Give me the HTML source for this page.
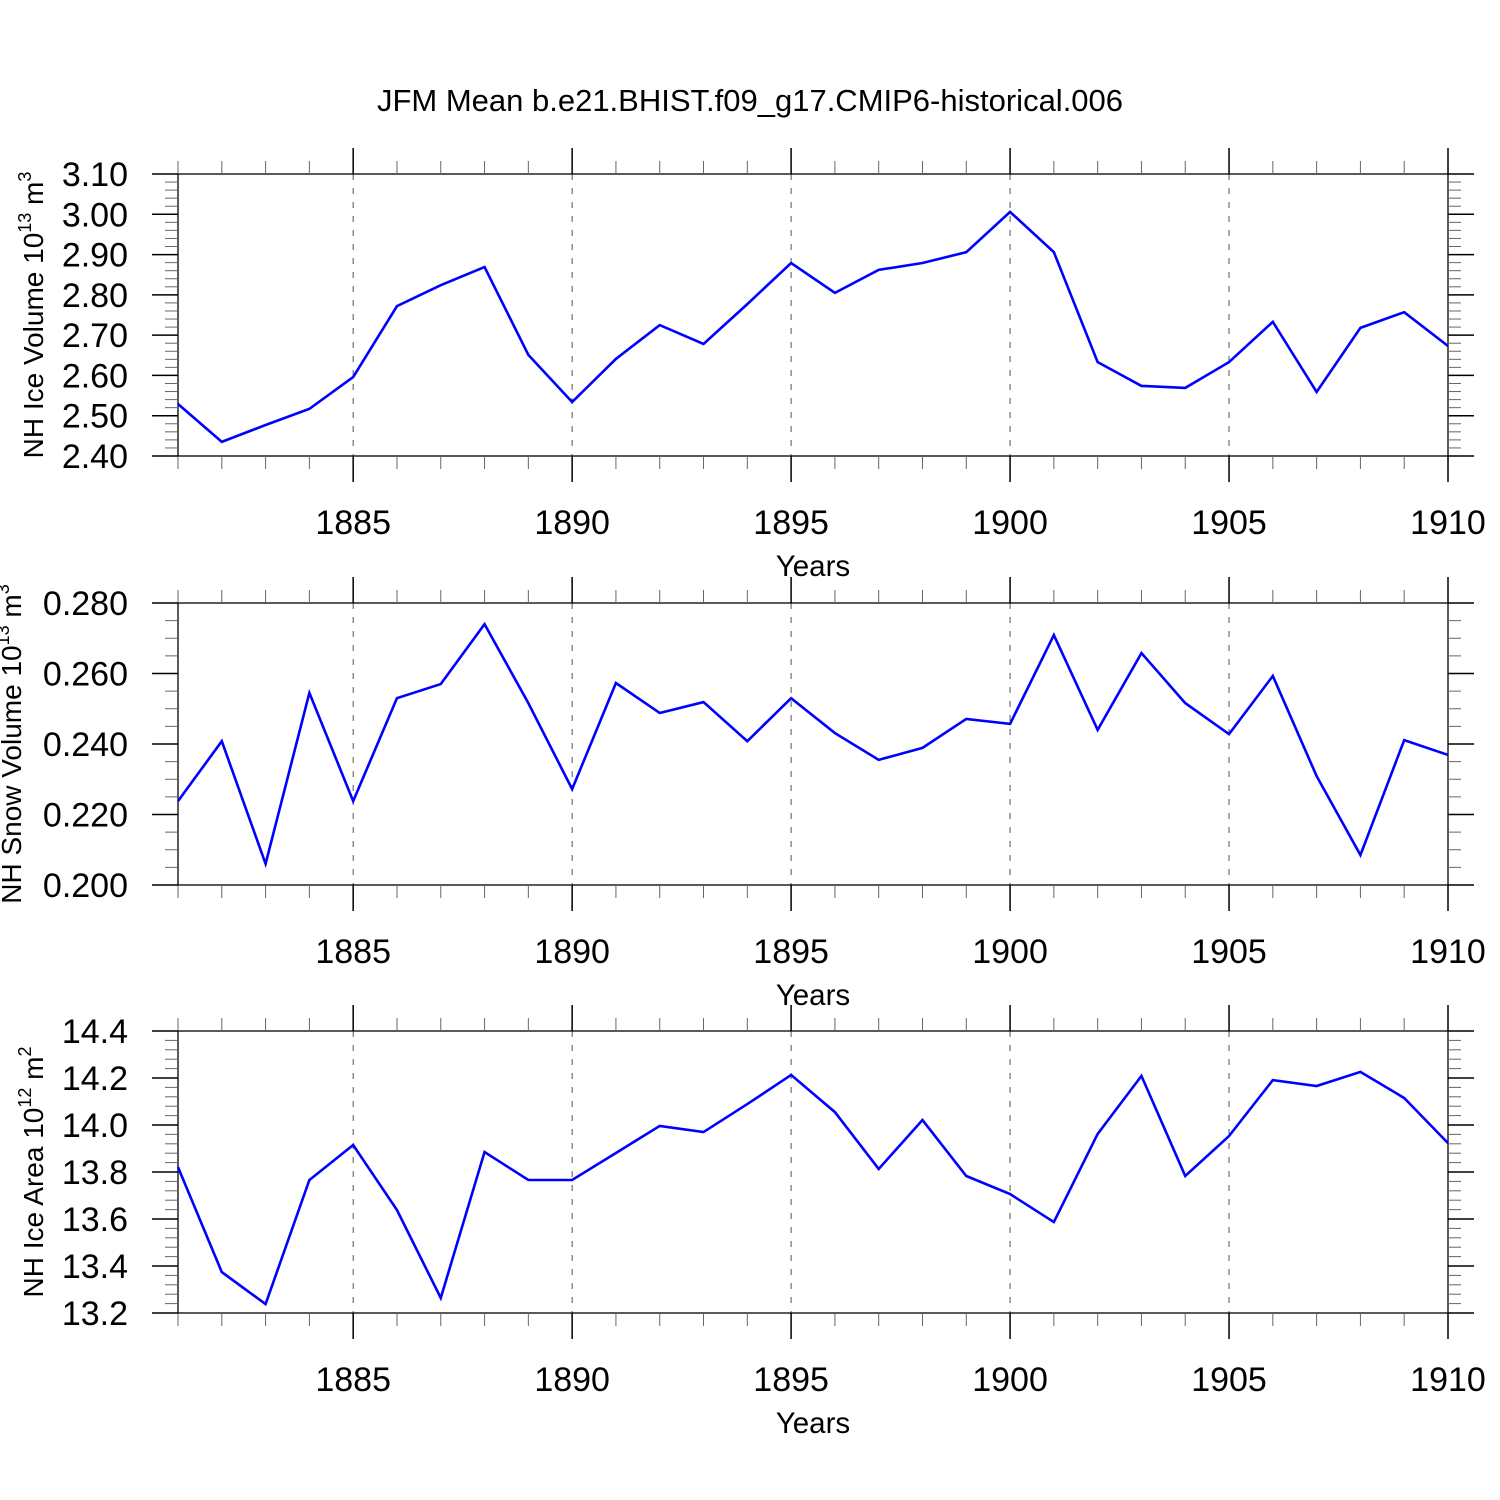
<!DOCTYPE html>
<html><head><meta charset="utf-8"><style>body{margin:0;background:#fff}svg{display:block}text{font-family:"Liberation Sans",sans-serif;fill:#000}</style></head>
<body>
<svg id="c" width="1500" height="1500" xmlns="http://www.w3.org/2000/svg">
<text x="750" y="111" font-size="31" text-anchor="middle">JFM Mean b.e21.BHIST.f09_g17.CMIP6-historical.006</text>
</svg>
<script>
const years = [1881,1882,1883,1884,1885,1886,1887,1888,1889,1890,1891,1892,1893,1894,1895,1896,1897,1898,1899,1900,1901,1902,1903,1904,1905,1906,1907,1908,1909,1910];
const iceVolume = [2.529,2.435,2.477,2.517,2.596,2.772,2.824,2.869,2.651,2.534,2.641,2.725,2.678,2.777,2.879,2.805,2.862,2.879,2.906,3.006,2.906,2.633,2.574,2.569,2.633,2.733,2.559,2.718,2.757,2.673];
const snowVolume = [0.2238,0.2408,0.2060,0.2545,0.2238,0.2530,0.2570,0.2740,0.2516,0.2272,0.2573,0.2488,0.2519,0.2408,0.2530,0.2431,0.2355,0.2389,0.2471,0.2457,0.2709,0.2440,0.2658,0.2516,0.2428,0.2593,0.2309,0.2085,0.2411,0.2369];
const iceArea = [13.821,13.374,13.238,13.766,13.915,13.638,13.264,13.885,13.766,13.766,13.881,13.996,13.970,14.089,14.213,14.055,13.813,14.021,13.783,13.706,13.587,13.962,14.209,13.783,13.953,14.191,14.166,14.226,14.115,13.923];
const xTicks = [1885,1890,1895,1900,1905,1910];
const iceVolTicks = [2.40,2.50,2.60,2.70,2.80,2.90,3.00,3.10];
const snowTicks = [0.200,0.220,0.240,0.260,0.280];
const areaTicks = [13.2,13.4,13.6,13.8,14.0,14.2,14.4];

const NS='http://www.w3.org/2000/svg';
const svg=document.getElementById('c');
function el(tag,attrs,parent){const e=document.createElementNS(NS,tag);for(const k in attrs)e.setAttribute(k,attrs[k]);(parent||svg).appendChild(e);return e;}
const X0=178,X1=1448;
function xs(y){return X0+(y-1881)/(1910-1881)*(X1-X0);}

function panel(top,name,data,ticks,dec,nMinor,titleParts,titleX){
  const bot=top+282,ymin=ticks[0],ymax=ticks[ticks.length-1];
  const ys=v=>bot-(v-ymin)/(ymax-ymin)*282;
  const g=el('g',{});
  
  
  xTicks.forEach(t=>{if(t<1910){const l=el('line',{x1:xs(t),x2:xs(t),y1:top,y2:bot,stroke:'#555','stroke-width':1,'stroke-dasharray':'6,8'},g);
    
    }});
  const f=el('rect',{x:X0,y:top,width:X1-X0,height:282,fill:'none',stroke:'#000','stroke-width':1.3},g);
  
  
  years.forEach(yr=>{const maj=xTicks.includes(yr);const L=maj?26:13;const x=xs(yr);
    el('line',{x1:x,x2:x,y1:top-L,y2:top,stroke:maj?'#000':'#666','stroke-width':maj?1.5:1},g);
    el('line',{x1:x,x2:x,y1:bot,y2:bot+L,stroke:maj?'#000':'#666','stroke-width':maj?1.5:1},g);});
  xTicks.forEach(t=>{const tx=el('text',{x:xs(t),y:bot+78,'font-size':34,'text-anchor':'middle'},g);tx.textContent=t;
    
    });
  const xt=el('text',{x:813,y:bot+120,'font-size':29.5,'text-anchor':'middle'},g);xt.textContent='Years';
  
  
  const segs=ticks.length-1, n=segs*(nMinor+1);
  for(let i=0;i<=n;i++){const y=bot-i*282/n;const maj=i%(nMinor+1)===0;
    const L=maj?26:13;
    el('line',{x1:X0-L,x2:X0,y1:y,y2:y,stroke:maj?'#000':'#666','stroke-width':maj?1.5:1},g);
    el('line',{x1:X1,x2:X1+L,y1:y,y2:y,stroke:maj?'#000':'#666','stroke-width':maj?1.5:1},g);}
  ticks.forEach(t=>{const tx=el('text',{x:128,y:ys(t)+12,'font-size':34,'text-anchor':'end'},g);tx.textContent=t.toFixed(dec);
    
    });
  const yt=el('text',{x:0,y:0,'font-size':28,'text-anchor':'middle',transform:`translate(${titleX},${top+141}) rotate(-90)`},g);
  
  
  titleParts.forEach(p=>{const s=el('tspan',p[1]?{'font-size':18,'baseline-shift':'65%'}:{},yt);s.textContent=p[0];});
  const pts=years.map((yr,i)=>xs(yr)+','+ys(data[i])).join(' ');
  const pl=el('polyline',{points:pts,fill:'none',stroke:'#0000ff','stroke-width':2.6,'stroke-linejoin':'miter'},g);
  
  
}
panel(174,'ice-volume',iceVolume,iceVolTicks,2,4,[['NH Ice Volume 10'],['13',1],[' m'],['3',1]],43);
panel(603,'snow-volume',snowVolume,snowTicks,3,3,[['NH Snow Volume 10'],['13',1],[' m'],['3',1]],21);
panel(1031,'ice-area',iceArea,areaTicks,1,4,[['NH Ice Area 10'],['12',1],[' m'],['2',1]],43);
</script>
</body></html>
